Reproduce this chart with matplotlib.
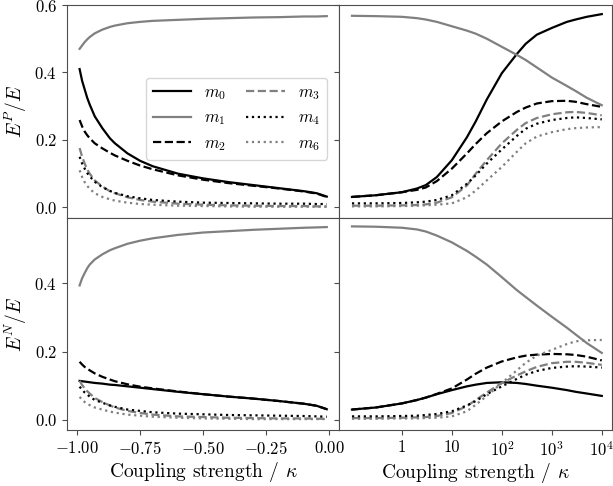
import matplotlib
matplotlib.use("Agg")
from matplotlib import pyplot as plt

plt.rcParams["font.family"] = "serif"
plt.rcParams["font.serif"] = ["cmr10"]
plt.rcParams["mathtext.fontset"] = "cm"
plt.rcParams["axes.formatter.use_mathtext"] = True
plt.rcParams["font.size"] = 12

# negative coupling (left column)
x_neg = [-0.99, -0.98, -0.97, -0.96, -0.95, -0.93, -0.9, -0.87, -0.85, -0.8,
         -0.75, -0.7, -0.6, -0.5, -0.4, -0.3, -0.2, -0.1, -0.05, -0.01]
# positive coupling (right column)
x_pos = [0.1, 0.3, 1, 2, 3, 5, 10, 20, 30, 50, 100, 200, 300, 500, 1000, 2000, 3000, 5000, 10000]

labels = ["$m_0$", "$m_1$", "$m_2$", "$m_3$", "$m_4$", "$m_6$"]

# E^P / E, negative coupling
p_neg_m0 = [0.41, 0.375, 0.35, 0.325, 0.305, 0.27, 0.235, 0.205, 0.19, 0.16, 0.138, 0.122, 0.1, 0.086, 0.075, 0.066, 0.057, 0.048, 0.042, 0.032]
p_neg_m1 = [0.47, 0.48, 0.49, 0.498, 0.505, 0.516, 0.527, 0.535, 0.539, 0.546, 0.55, 0.553, 0.556, 0.559, 0.561, 0.563, 0.564, 0.566, 0.566, 0.567]
p_neg_m2 = [0.259, 0.24, 0.225, 0.214, 0.205, 0.19, 0.175, 0.162, 0.154, 0.138, 0.124, 0.113, 0.095, 0.082, 0.072, 0.064, 0.056, 0.047, 0.041, 0.031]
p_neg_m3 = [0.176, 0.15, 0.13, 0.113, 0.1, 0.08, 0.062, 0.048, 0.042, 0.03, 0.022, 0.017, 0.011, 0.008, 0.006, 0.005, 0.004, 0.004, 0.003, 0.003]
p_neg_m4 = [0.15, 0.13, 0.115, 0.102, 0.092, 0.076, 0.06, 0.049, 0.043, 0.033, 0.027, 0.022, 0.017, 0.014, 0.013, 0.012, 0.011, 0.011, 0.01, 0.01]
p_neg_m6 = [0.11, 0.09, 0.075, 0.064, 0.055, 0.042, 0.031, 0.024, 0.02, 0.014, 0.01, 0.008, 0.005, 0.004, 0.003, 0.002, 0.002, 0.002, 0.002, 0.002]

# E^P / E, positive coupling
p_pos_m0 = [0.031, 0.036, 0.045, 0.056, 0.066, 0.09, 0.14, 0.208, 0.255, 0.32, 0.398, 0.455, 0.485, 0.512, 0.532, 0.55, 0.557, 0.565, 0.573]
p_pos_m1 = [0.568, 0.567, 0.565, 0.561, 0.557, 0.55, 0.537, 0.524, 0.515, 0.5, 0.476, 0.452, 0.437, 0.415, 0.385, 0.36, 0.345, 0.325, 0.303]
p_pos_m2 = [0.031, 0.036, 0.045, 0.052, 0.059, 0.078, 0.115, 0.16, 0.188, 0.22, 0.255, 0.283, 0.296, 0.308, 0.315, 0.316, 0.313, 0.306, 0.298]
p_pos_m3 = [0.005, 0.005, 0.006, 0.007, 0.009, 0.014, 0.03, 0.065, 0.1, 0.14, 0.19, 0.23, 0.25, 0.265, 0.276, 0.282, 0.283, 0.28, 0.273]
p_pos_m4 = [0.012, 0.012, 0.013, 0.015, 0.017, 0.022, 0.036, 0.07, 0.095, 0.13, 0.172, 0.212, 0.233, 0.248, 0.259, 0.265, 0.267, 0.265, 0.261]
p_pos_m6 = [0.003, 0.003, 0.004, 0.005, 0.006, 0.008, 0.012, 0.03, 0.05, 0.08, 0.12, 0.165, 0.19, 0.21, 0.223, 0.232, 0.235, 0.237, 0.238]

# E^N / E, negative coupling
n_neg_m0 = [0.114, 0.113, 0.112, 0.111, 0.11, 0.108, 0.106, 0.103, 0.102, 0.098, 0.094, 0.09, 0.082, 0.075, 0.068, 0.062, 0.055, 0.047, 0.041, 0.031]
n_neg_m1 = [0.394, 0.415, 0.43, 0.444, 0.455, 0.47, 0.485, 0.497, 0.503, 0.516, 0.525, 0.532, 0.542, 0.549, 0.553, 0.557, 0.56, 0.563, 0.564, 0.565]
n_neg_m2 = [0.17, 0.162, 0.155, 0.15, 0.145, 0.136, 0.126, 0.118, 0.113, 0.104, 0.097, 0.092, 0.083, 0.075, 0.068, 0.062, 0.055, 0.047, 0.041, 0.031]
n_neg_m3 = [0.114, 0.102, 0.092, 0.084, 0.077, 0.064, 0.052, 0.042, 0.036, 0.026, 0.02, 0.015, 0.01, 0.008, 0.006, 0.005, 0.004, 0.004, 0.003, 0.003]
n_neg_m4 = [0.097, 0.088, 0.08, 0.074, 0.068, 0.058, 0.05, 0.042, 0.038, 0.03, 0.026, 0.022, 0.018, 0.016, 0.014, 0.013, 0.012, 0.011, 0.01, 0.009]
n_neg_m6 = [0.067, 0.059, 0.052, 0.047, 0.043, 0.036, 0.03, 0.024, 0.021, 0.015, 0.012, 0.009, 0.006, 0.004, 0.003, 0.002, 0.002, 0.002, 0.002, 0.002]

# E^N / E, positive coupling
n_pos_m0 = [0.03, 0.036, 0.048, 0.058, 0.065, 0.075, 0.087, 0.098, 0.103, 0.108, 0.11, 0.108, 0.105, 0.1, 0.094, 0.087, 0.082, 0.077, 0.07]
n_pos_m1 = [0.567, 0.566, 0.563, 0.558, 0.552, 0.54, 0.52, 0.495, 0.478, 0.455, 0.418, 0.38, 0.36, 0.335, 0.302, 0.27, 0.25, 0.225, 0.196]
n_pos_m2 = [0.03, 0.036, 0.048, 0.058, 0.065, 0.076, 0.092, 0.118, 0.135, 0.153, 0.171, 0.183, 0.188, 0.191, 0.193, 0.192, 0.19, 0.185, 0.174]
n_pos_m3 = [0.005, 0.005, 0.006, 0.007, 0.008, 0.011, 0.02, 0.04, 0.058, 0.08, 0.108, 0.13, 0.142, 0.155, 0.166, 0.17, 0.17, 0.167, 0.161]
n_pos_m4 = [0.01, 0.01, 0.011, 0.012, 0.014, 0.017, 0.025, 0.042, 0.055, 0.075, 0.098, 0.12, 0.132, 0.143, 0.152, 0.156, 0.157, 0.156, 0.153]
n_pos_m6 = [0.003, 0.003, 0.004, 0.004, 0.005, 0.006, 0.01, 0.025, 0.044, 0.07, 0.108, 0.145, 0.167, 0.188, 0.205, 0.222, 0.23, 0.233, 0.234]

styles = [("black", "-"), ("grey", "-"), ("black", "--"), ("grey", "--"), ("black", ":"), ("grey", ":")]

fig, axes = plt.subplots(2, 2, figsize=(6.13, 4.86), dpi=100)
fig.subplots_adjust(left=0.1093, right=0.998, bottom=0.1152, top=0.9897, wspace=0, hspace=0)

panels = [
    (axes[0, 0], x_neg, [p_neg_m0, p_neg_m1, p_neg_m2, p_neg_m3, p_neg_m4, p_neg_m6]),
    (axes[0, 1], x_pos, [p_pos_m0, p_pos_m1, p_pos_m2, p_pos_m3, p_pos_m4, p_pos_m6]),
    (axes[1, 0], x_neg, [n_neg_m0, n_neg_m1, n_neg_m2, n_neg_m3, n_neg_m4, n_neg_m6]),
    (axes[1, 1], x_pos, [n_pos_m0, n_pos_m1, n_pos_m2, n_pos_m3, n_pos_m4, n_pos_m6]),
]

for ax, xs, series in panels:
    for ys, (c, ls), lab in zip(series, styles, labels):
        ax.plot(xs, ys, color=c, linestyle=ls, linewidth=1.6, label=lab)
    for sp in ax.spines.values():
        sp.set_color("0.3")
    ax.tick_params(colors="0.3", labelcolor="black", labelsize=12)

for ax in axes[:, 1]:
    ax.set_xscale("log")
    ax.set_xlim(0.056, 10 ** 4.2)
    ax.set_xticks([1, 10, 100, 1000, 10000])
    ax.set_xticklabels(["1", "10", "$10^2$", "$10^3$", "$10^4$"])
    ax.minorticks_off()
    ax.tick_params(labelleft=False)

for ax in axes[:, 0]:
    ax.set_xlim(-1.04, 0.04)
    ax.set_xticks([-1.0, -0.75, -0.5, -0.25, 0.0])

for ax in axes[0, :]:
    ax.set_ylim(-0.03, 0.6)
    ax.set_yticks([0.0, 0.2, 0.4, 0.6])
    ax.tick_params(bottom=False, labelbottom=False)

for ax in axes[1, :]:
    ax.set_ylim(-0.03, 0.593)
    ax.set_yticks([0.0, 0.2, 0.4])
    ax.set_xlabel(r"Coupling strength / $\kappa$", fontsize=14, labelpad=2)

axes[0, 0].set_ylabel("$E^P/E$", fontsize=14)
axes[1, 0].set_ylabel("$E^N/E$", fontsize=14)

axes[0, 0].legend(ncol=2, loc="upper right", bbox_to_anchor=(0.985, 0.695), fontsize=12,
                  handlelength=2.3, columnspacing=1.2)

fig.savefig("out.png", dpi=100)
